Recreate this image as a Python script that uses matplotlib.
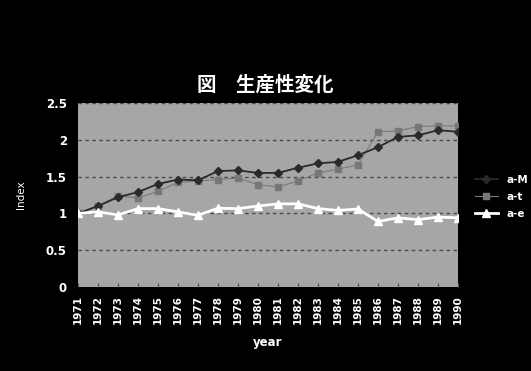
import matplotlib
matplotlib.use("Agg")
import matplotlib.pyplot as plt

years = list(range(1971, 1991))
a_M = [1.00, 1.10, 1.22, 1.29, 1.40, 1.46, 1.45, 1.575, 1.585, 1.55,
       1.55, 1.62, 1.68, 1.70, 1.79, 1.90, 2.04, 2.06, 2.13, 2.11]
a_t = [1.00, 1.10, 1.24, 1.21, 1.30, 1.42, 1.44, 1.46, 1.48, 1.39,
       1.36, 1.44, 1.55, 1.60, 1.66, 2.11, 2.12, 2.18, 2.19, 2.19]
a_e = [1.00, 1.02, 0.98, 1.065, 1.065, 1.02, 0.975, 1.07, 1.065, 1.10,
       1.13, 1.13, 1.065, 1.04, 1.06, 0.89, 0.94, 0.915, 0.95, 0.94]
yticks = [0, 0.5, 1, 1.5, 2, 2.5]
ytick_labels = ["0", "0.5", "1", "1.5", "2", "2.5"]

plt.rcParams['font.family'] = ['Noto Sans CJK JP', 'DejaVu Sans']

fig = plt.figure(figsize=(5.31, 3.71), dpi=100, facecolor='black')
ax = fig.add_axes([78/531, 1 - 287/371, (458-78)/531, (287-103)/371])
ax.set_facecolor('#a6a6a6')

for y in [0.5, 1, 1.5, 2, 2.5]:
    ax.axhline(y, color='#4a4a4a', lw=1.0, ls=(0, (2.5, 2.5)), zorder=1)

ax.plot(years, a_M, color='#2a2a2a', lw=1.3, marker='D', ms=4.2,
        mfc='#2a2a2a', mec='#2a2a2a', label='a-M', zorder=3)
ax.plot(years, a_t, color='#7a7a7a', lw=0.8, marker='s', ms=4.2,
        mfc='#777777', mec='#777777', label='a-t', zorder=2)
ax.plot(years, a_e, color='white', lw=2.0, marker='^', ms=6.0,
        mfc='white', mec='white', label='a-e', zorder=4)

ax.set_xlim(1971, 1990)
ax.set_ylim(0, 2.5)
ax.set_xticks(years)
ax.set_xticklabels([str(y) for y in years], rotation=90, color='white',
                   fontsize=7.5, fontweight='bold', family='DejaVu Sans')
ax.set_yticks(yticks)
ax.set_yticklabels(ytick_labels, color='white', fontsize=8.5,
                   fontweight='bold', family='DejaVu Sans')
ax.tick_params(axis='x', direction='in', length=3, color='#555555', pad=6)
ax.tick_params(axis='y', length=0, pad=8)
for s in ax.spines.values():
    s.set_visible(False)

ax.set_xlabel('year', color='white', fontsize=8.5, fontweight='bold',
              family='DejaVu Sans', labelpad=8)
ax.set_ylabel('Index', color='white', fontsize=7.5, family='DejaVu Sans',
              labelpad=14)

fig.text(0.5, 1 - 85/371, '図　生産性変化', color='white', fontsize=14,
         fontweight='bold', ha='center', va='center')

leg = ax.legend(loc='center left', bbox_to_anchor=(1.02, 0.49), frameon=False,
                handlelength=2.2, labelspacing=0.7,
                prop={'family': 'DejaVu Sans', 'size': 7.5, 'weight': 'bold'})
for t in leg.get_texts():
    t.set_color('white')

fig.savefig('out.png', dpi=100, facecolor='black')
